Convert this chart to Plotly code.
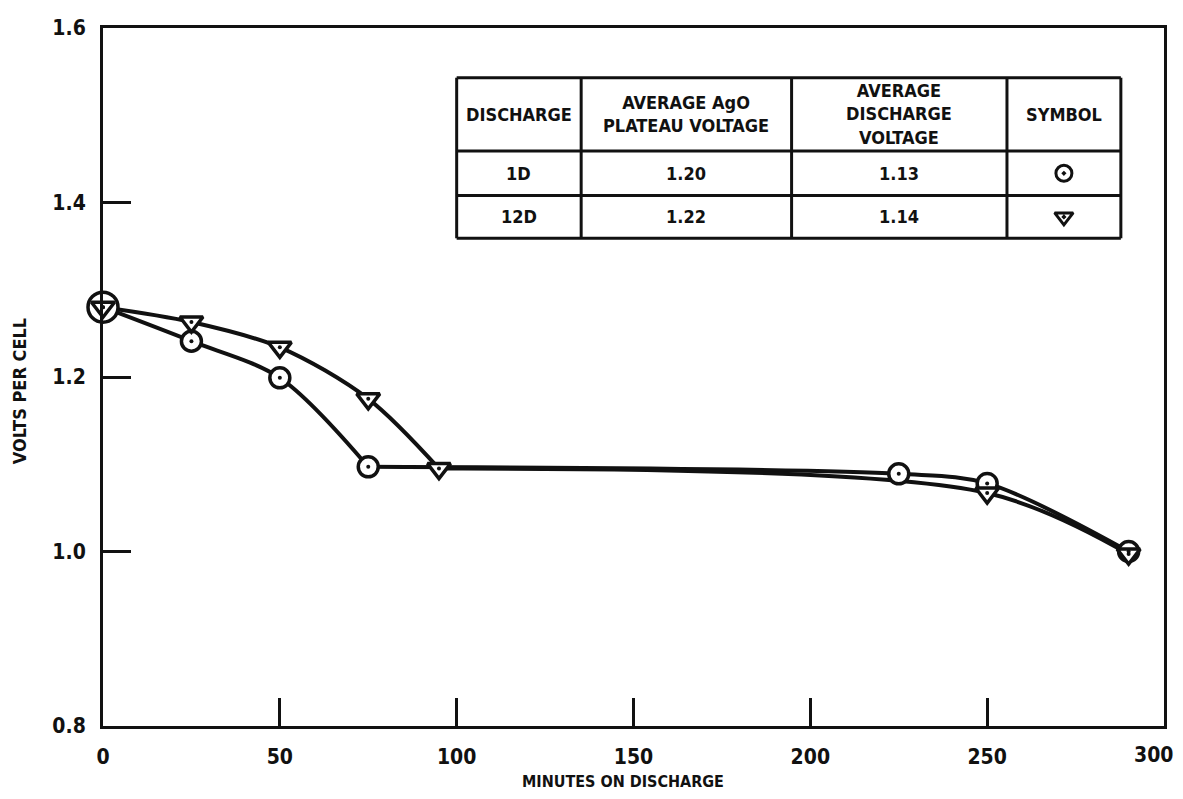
"""Discharge curves for silver-zinc cells, 1D vs 12D."""

import plotly.graph_objects as go

# 1D discharge (circles)
minutes_1d = [0, 25, 50, 75, 225, 250, 290]
volts_1d = [1.28, 1.241, 1.199, 1.097, 1.089, 1.078, 1.000]

# 12D discharge (triangles)
minutes_12d = [0, 25, 50, 75, 95, 250, 290]
volts_12d = [1.28, 1.263, 1.234, 1.175, 1.095, 1.067, 0.997]

# table contents
table_header = ["DISCHARGE", "AVERAGE AgO<br>PLATEAU VOLTAGE",
                "AVERAGE<br>DISCHARGE<br>VOLTAGE", "SYMBOL"]
table_rows = [["1D", "1.20", "1.13"],
              ["12D", "1.22", "1.14"]]

x_ticks = [0, 50, 100, 150, 200, 250, 300]
y_ticks = [0.8, 1.0, 1.2, 1.4, 1.6]

FONT = "Liberation Sans Narrow, DejaVu Sans Condensed, Arial Narrow, sans-serif"
BLACK = "#111111"

fig = go.Figure()

# curves, split at the knee so the corner stays sharp
knee_1d, knee_12d = 3, 4
for xs, ys in [
    (minutes_1d[:knee_1d + 1], volts_1d[:knee_1d + 1]),
    (minutes_1d[knee_1d:], volts_1d[knee_1d:]),
    (minutes_12d[:knee_12d + 1], volts_12d[:knee_12d + 1]),
    (minutes_12d[knee_12d:], volts_12d[knee_12d:]),
]:
    fig.add_trace(go.Scatter(
        x=xs, y=ys, mode="lines",
        line=dict(color=BLACK, width=4, shape="spline", smoothing=0.9),
        hoverinfo="skip", showlegend=False,
    ))

# markers on top
sizes_1d = [30] + [20] * (len(minutes_1d) - 1)
fig.add_trace(go.Scatter(
    x=minutes_1d, y=volts_1d, mode="markers", name="1D", cliponaxis=False,
    marker=dict(symbol="circle", size=sizes_1d, color="white", opacity=1,
                line=dict(color=BLACK, width=3.5)),
    showlegend=False,
))
fig.add_trace(go.Scatter(
    x=minutes_12d, y=volts_12d, mode="markers", name="12D", cliponaxis=False,
    marker=dict(symbol="triangle-down", size=20, color="white", opacity=1,
                line=dict(color=BLACK, width=3.5)),
    showlegend=False,
))
for xs, ys in [(minutes_1d, volts_1d), (minutes_12d, volts_12d)]:
    fig.add_trace(go.Scatter(
        x=xs, y=ys, mode="markers", cliponaxis=False,
        marker=dict(symbol="circle", size=4, color=BLACK),
        hoverinfo="skip", showlegend=False,
    ))

# table (data coordinates)
col_edges = [100, 135.2, 194.7, 255.6, 287.8]
row_edges = [1.543, 1.459, 1.408, 1.359]
for xe in col_edges:
    fig.add_shape(type="line", x0=xe, x1=xe, y0=row_edges[-1], y1=row_edges[0],
                  line=dict(color=BLACK, width=3))
for ye in row_edges:
    fig.add_shape(type="line", x0=col_edges[0], x1=col_edges[-1], y0=ye, y1=ye,
                  line=dict(color=BLACK, width=3))

rows = [table_header] + table_rows
for r, row in enumerate(rows):
    yc = (row_edges[r] + row_edges[r + 1]) / 2
    for c, txt in enumerate(row):
        xc = (col_edges[c] + col_edges[c + 1]) / 2
        fig.add_annotation(
            x=xc, y=yc, text=txt, showarrow=False,
            font=dict(family=FONT, size=18, color=BLACK, weight="bold"),
        )

# symbol keys in the last column
sym_x = (col_edges[3] + col_edges[4]) / 2
for r, sym in enumerate(["circle-open-dot", "triangle-down-open-dot"]):
    fig.add_trace(go.Scatter(
        x=[sym_x], y=[(row_edges[r + 1] + row_edges[r + 2]) / 2],
        mode="markers", hoverinfo="skip", showlegend=False,
        marker=dict(symbol=sym, size=16, color=BLACK, line=dict(color=BLACK, width=3)),
    ))

tick_font = dict(family=FONT, size=21, color=BLACK, weight="bold")

# the last x label sits on the page edge, so it is pulled in a little
x_labels = [str(v) for v in x_ticks]
fig.add_annotation(xref="x", yref="paper", x=x_ticks[-1], y=0, yanchor="middle",
                   xshift=-11, yshift=-29, text=x_labels[-1], showarrow=False,
                   font=tick_font)

# axis titles
fig.add_annotation(xref="paper", yref="paper", x=0.49, y=-0.0795, yanchor="middle",
                   text="MINUTES ON DISCHARGE", showarrow=False,
                   font=dict(family=FONT, size=16, color=BLACK, weight="bold"))
fig.add_annotation(xref="paper", yref="paper", x=-0.078, y=0.48, xanchor="center",
                   text="VOLTS PER CELL", showarrow=False, textangle=-90,
                   font=dict(family=FONT, size=18, color=BLACK, weight="bold"))

axis_common = dict(
    showline=True, linewidth=3, linecolor=BLACK, mirror=True,
    ticks="inside", tickwidth=3, tickcolor=BLACK, ticklen=28,
    showgrid=False, zeroline=False, tickfont=tick_font,
)
fig.update_xaxes(range=[0, 300], tickvals=x_ticks,
                 ticktext=x_labels[:-1] + [""], ticklabelstandoff=10,
                 **axis_common)
fig.update_yaxes(range=[0.8, 1.6], tickvals=y_ticks, tickformat=".1f",
                 ticklabelstandoff=10, **axis_common)

# the page body keeps its 8px margin, so the figure is 16px smaller than the window
fig.update_layout(
    width=1167, height=783,
    margin=dict(l=95, r=8, t=14, b=65),
    plot_bgcolor="white", paper_bgcolor="white",
    font=dict(family=FONT, color=BLACK),
)

fig.write_html("out.html", config={"displayModeBar": False})
